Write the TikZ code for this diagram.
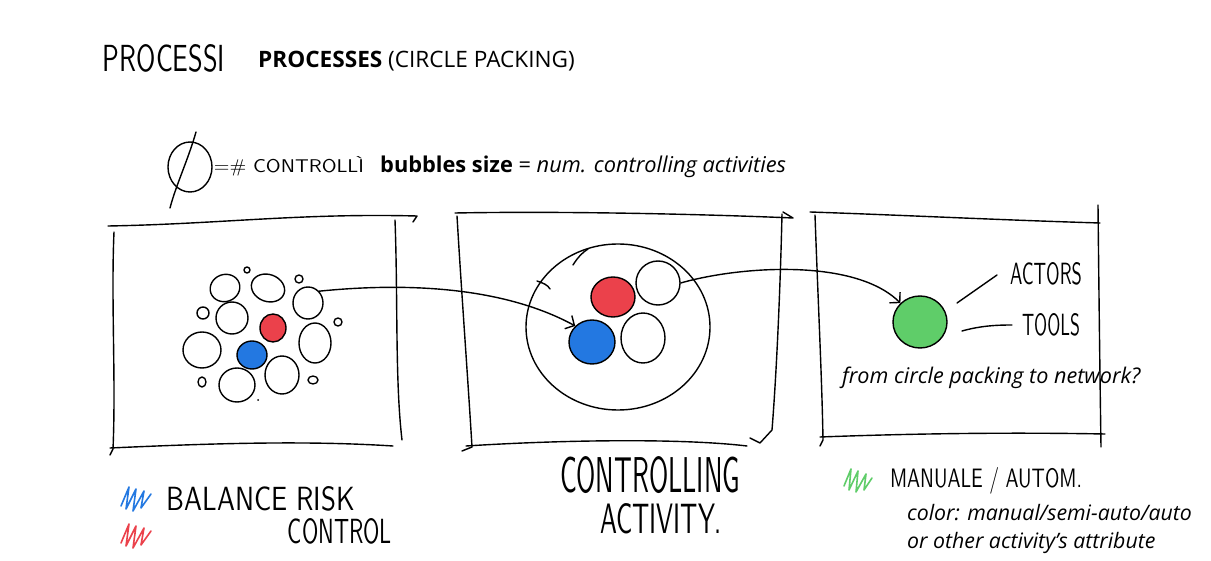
\documentclass[tikz,border=0pt]{standalone}
\usepackage{fontspec}
\setmainfont{Open Sans}
\usetikzlibrary{arrows.meta,shapes.geometric}
\definecolor{sblue}{RGB}{35,120,225}
\definecolor{sred}{RGB}{235,65,75}
\definecolor{sgreen}{RGB}{95,205,105}
\newcommand\handtxt[3]{\resizebox{#1pt}{#2pt}{\sffamily #3}}
\begin{document}
\begin{tikzpicture}[x=1pt,y=-1pt,
  hand/.style={line width=1.4pt, line cap=round, line join=round},
  bub/.style={ellipse, draw, hand, inner sep=0pt},
  arr/.style={hand, -{Straight Barb[length=7pt,width=15pt]}},
  scrib/.style={line width=1.6pt, line cap=round, line join=round},
  ht/.style={inner sep=0pt},
  typed/.style={inner sep=0pt, anchor=base west},
]
\useasboundingbox (0,0) rectangle (1211,561);
\fill[white] (0,0) rectangle (1211,561);

% ---------- title ----------
\node[ht] (proc) at (164,58) {\handtxt{122}{27}{PROCESSI}};
\node[typed, font=\fontsize{22.6}{27}\selectfont] (title) at (258,68) {\textbf{PROCESSES} (CIRCLE PACKING)};

% ---------- legend line ----------
\draw[hand] (190,167) ellipse (22 and 25);
\draw[hand] (196,132) .. controls (188,160) and (176,185) .. (170,208);
\node[ht] (ctrl) at (289,166) {\handtxt{150}{16}{=\# CONTROLLÌ}};
\node[typed, font=\fontsize{21.8}{26}\selectfont] (size) at (380,173) {\textbf{bubbles size} = \textit{num. controlling activities}};

% ---------- panel 1 ----------
\draw[hand] (108,226) .. controls (220,224) and (300,213) .. (417,216) -- (413,222);
\draw[hand] (114,232) .. controls (111,300) and (116,380) .. (113,449) -- (110,455);
\draw[hand] (395,220) .. controls (398,300) and (395,380) .. (402,440);
\draw[hand] (110,448) .. controls (200,444) and (300,440) .. (393,446);

\node[bub, minimum width=6pt,  minimum height=6pt]  (a1)  at (247,270) {};
\node[bub, minimum width=30pt, minimum height=27pt, rotate=20] (a2)  at (225,288) {};
\node[bub, minimum width=34pt, minimum height=27pt, rotate=-20] (a3)  at (268,288) {};
\node[bub, minimum width=8pt,  minimum height=8pt]  (a4)  at (299,279) {};
\node[bub, minimum width=30pt, minimum height=32pt] (a5)  at (308,303) {};
\node[bub, minimum width=12pt, minimum height=12pt] (a6)  at (203,313) {};
\node[bub, minimum width=32pt, minimum height=32pt] (a7)  at (232,318) {};
\node[bub, fill=sred, minimum width=26pt, minimum height=28pt] (a8)  at (273,328) {};
\node[bub, minimum width=8pt,  minimum height=8pt]  (a9)  at (338,322) {};
\node[bub, minimum width=38pt, minimum height=36pt] (a10) at (202,350) {};
\node[bub, fill=sblue, minimum width=30pt, minimum height=28pt] (a11) at (252,355) {};
\node[bub, minimum width=32pt, minimum height=40pt] (a12) at (315,343) {};
\node[bub, minimum width=34pt, minimum height=38pt] (a13) at (282,375) {};
\node[bub, minimum width=36pt, minimum height=34pt] (a14) at (237,385) {};
\node[bub, minimum width=8pt,  minimum height=10pt] (a15) at (202,382) {};
\node[bub, minimum width=10pt, minimum height=8pt]  (a16) at (313,380) {};
\fill (258,400) circle (1pt);

% ---------- panel 2 ----------
\draw[hand] (455,213) .. controls (560,211) and (700,214) .. (793,218) -- (783,212);
\draw[hand] (457,216) .. controls (462,300) and (468,380) .. (472,447) -- (462,451);
\draw[hand] (782,214) .. controls (780,300) and (776,380) .. (772,430) -- (760,443) -- (750,438);
\draw[hand] (466,446) .. controls (560,440) and (680,438) .. (747,446);

\node[bub, minimum width=184pt, minimum height=166pt] (b0) at (618,327) {};
\draw[hand] (573,265) .. controls (578,257) and (583,252) .. (588,249);
\draw[hand] (537,281) .. controls (543,283) and (548,285) .. (550,289);
\node[bub, fill=sred,  minimum width=44pt, minimum height=40pt] (b1) at (613,297) {};
\node[bub, minimum width=44pt, minimum height=44pt] (b2) at (658,283) {};
\node[bub, fill=sblue, minimum width=46pt, minimum height=44pt] (b3) at (592,342) {};
\node[bub, minimum width=44pt, minimum height=50pt] (b4) at (643,338) {};

% ---------- panel 3 ----------
\draw[hand] (810,212) .. controls (900,215) and (1000,220) .. (1100,223);
\draw[hand] (815,215) .. controls (818,300) and (822,380) .. (823,440) -- (820,446);
\draw[hand] (1098,205) .. controls (1099,300) and (1100,380) .. (1101,447);
\draw[hand] (820,437) .. controls (900,434) and (1000,432) .. (1105,434);

\node[bub, fill=sgreen, minimum width=54pt, minimum height=52pt] (c1) at (920,322) {};
\node[ht] (actors) at (1046,274) {\handtxt{72}{22}{ACTORS}};
\node[ht] (tools) at (1051,325) {\handtxt{58}{22}{TOOLS}};
\coordinate (actA) at (957,303);
\coordinate (actB) at (997,275);
\coordinate (toolA) at (962,331);
\coordinate (toolB) at (1012,325);
\draw[hand] (actA) -- (actB);
\draw[hand] (toolA) .. controls (980,326) and (995,325) .. (toolB);
\node[typed, font=\fontsize{21.6}{26}\selectfont\itshape] (question) at (842,384) {from circle packing to network?};

% ---------- arrows ----------
\draw[arr] (a5.north east) .. controls (400,283) and (500,285) .. (b3.north west);
\draw[arr] (b2.east) .. controls (740,266) and (855,258) .. (c1.north west);

% ---------- bottom legend ----------
\draw[scrib, sblue] (121,506) -- (129,487) -- (126,509) -- (136,489) -- (133,511) -- (144,491) -- (141,508) -- (151,494);
\draw[scrib, sred] (121,543) -- (129,524) -- (126,546) -- (136,526) -- (133,548) -- (144,528) -- (141,545) -- (151,531);
\node[ht] (balance) at (261,499) {\handtxt{188}{24}{BALANCE RISK}};
\node[ht] (control) at (340,531) {\handtxt{104}{25}{CONTROL}};

\node[ht] (cact1) at (650,475) {\handtxt{180}{36}{CONTROLLING}};
\node[ht] (cact2) at (661,519) {\handtxt{122}{30}{ACTIVITY.}};

\draw[scrib, sgreen] (844,486) -- (851,469) -- (849,490) -- (858,471) -- (856,492) -- (866,474) -- (864,490) -- (872,478);
\node[ht] (manual) at (986,481) {\handtxt{192}{20}{MANUALE / AUTOM.}};
\node[typed, font=\fontsize{21.3}{26}\selectfont\itshape] (color1) at (907,520) {color: manual/semi-auto/auto};
\node[typed, font=\fontsize{21.3}{26}\selectfont\itshape] (color2) at (907,548) {or other activity's attribute};
\end{tikzpicture}
\end{document}
